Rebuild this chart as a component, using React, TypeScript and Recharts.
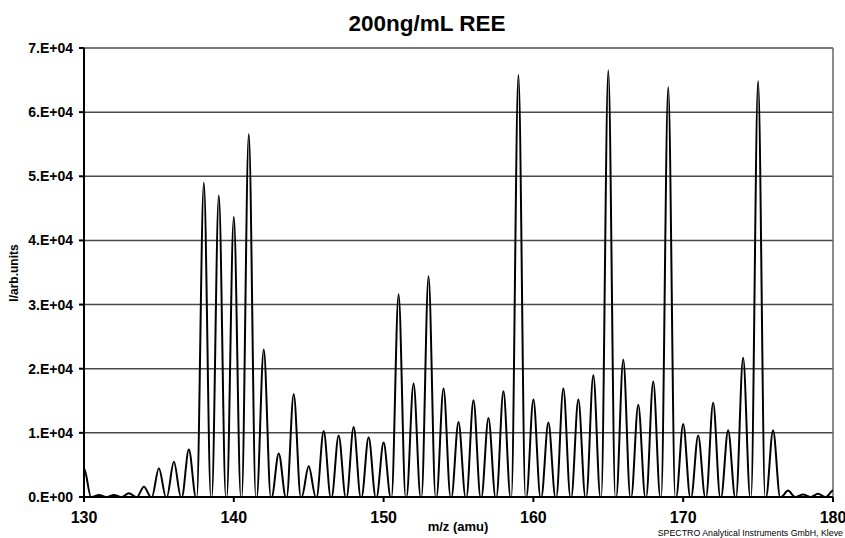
import { LineChart, Line, XAxis, YAxis, CartesianGrid, ReferenceLine } from "recharts";

// m/z positions of the peaks (amu)
const MASSES = [
  130, 131, 132, 133, 134, 135, 136, 137, 138, 139,
  140, 141, 142, 143, 144, 145, 146, 147, 148, 149,
  150, 151, 152, 153, 154, 155, 156, 157, 158, 159,
  160, 161, 162, 163, 164, 165, 166, 167, 168, 169,
  170, 171, 172, 173, 174, 175, 176, 177, 178, 179,
  180
];

// peak intensity (arb. units)
const INTENSITY = [
  4500, 300, 300, 600, 1600, 4500, 5500, 7400, 49000, 47000,
  43700, 56600, 23000, 6800, 16000, 4800, 10300, 9600, 10900, 9300,
  8500, 31600, 17700, 34400, 16900, 11700, 15100, 12300, 16500, 65800,
  15200, 11600, 16900, 15200, 19000, 66500, 21400, 14400, 18000, 63900,
  11400, 9600, 14700, 10400, 21700, 64800, 10400, 1000, 400, 500,
  1000
];

const X_TICKS = [130, 140, 150, 160, 170, 180];
const Y_TICKS = [0, 10000, 20000, 30000, 40000, 50000, 60000, 70000];

const TITLE = "200ng/mL REE";
const X_LABEL = "m/z (amu)";
const Y_LABEL = "I/arb.units";
const CREDIT = "SPECTRO Analytical Instruments GmbH, Kleve";

const HALF_WIDTH = 0.47;
const FONT = "'Liberation Sans', Arial, sans-serif";

// each peak: baseline, apex, baseline
const spectrum = MASSES.flatMap((m, i) => [
  { mz: m - HALF_WIDTH, value: 0 },
  { mz: m, value: INTENSITY[i] },
  { mz: m + HALF_WIDTH, value: 0 }
]);

const formatY = (v: number) => (v === 0 ? "0.E+00" : `${v / 10000}.E+04`);

export default function App() {
  return (
    <div style={{ position: "absolute", left: 0, top: 0, width: 845, height: 538, background: "#fff" }}>
      <LineChart
        width={845}
        height={538}
        data={spectrum}
        margin={{ top: 48, right: 12, bottom: 0, left: 0 }}
      >
        <CartesianGrid vertical={false} stroke="#4a4a4a" strokeWidth={1.5} />
        <ReferenceLine x={180} stroke="#666" strokeWidth={1.5} />
        <XAxis
          dataKey="mz"
          type="number"
          domain={[130, 180]}
          ticks={X_TICKS}
          allowDataOverflow
          height={41}
          stroke="#000"
          strokeWidth={2}
          tickSize={5}
          tickMargin={10}
          tick={{ fill: "#000", fontSize: 16, fontWeight: "bold", fontFamily: FONT }}
        />
        <YAxis
          type="number"
          domain={[0, 70000]}
          ticks={Y_TICKS}
          width={84}
          stroke="#000"
          strokeWidth={2}
          tickSize={5}
          tickMargin={6}
          tickFormatter={formatY}
          tick={{ fill: "#000", fontSize: 14, fontWeight: "bold", fontFamily: FONT }}
        />
        <Line
          type="monotone"
          dataKey="value"
          stroke="#000"
          strokeWidth={2}
          dot={false}
          isAnimationActive={false}
        />
      </LineChart>
      <svg
        width={845}
        height={538}
        style={{ position: "absolute", left: 0, top: 0, pointerEvents: "none" }}
      >
        <text x={427} y={31} textAnchor="middle" fontSize={22.5} fontWeight="bold" fontFamily={FONT} fill="#000">
          {TITLE}
        </text>
        <text x={458} y={531} textAnchor="middle" fontSize={13} fontWeight="bold" fontFamily={FONT} fill="#000">
          {X_LABEL}
        </text>
        <text
          x={0}
          y={0}
          transform="translate(18 273) rotate(-90)"
          textAnchor="middle"
          fontSize={12}
          fontWeight="bold"
          fontFamily={FONT}
          fill="#000"
        >
          {Y_LABEL}
        </text>
        <text x={843} y={536} textAnchor="end" fontSize={8.8} fontFamily={FONT} fill="#000">
          {CREDIT}
        </text>
      </svg>
    </div>
  );
}
